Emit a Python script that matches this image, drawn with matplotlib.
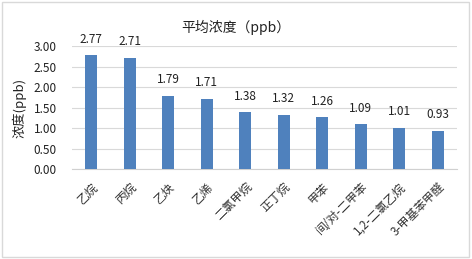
import matplotlib
matplotlib.use("Agg")
import matplotlib.pyplot as plt
from matplotlib.patches import Rectangle

plt.rcParams['font.family'] = ['Noto Sans CJK SC', 'DejaVu Sans']

# Data
compounds = ["乙烷", "丙烷", "乙炔", "乙烯", "二氯甲烷", "正丁烷", "甲苯",
             "间/对-二甲苯", "1,2-二氯乙烷", "3-甲基苯甲醛"]
conc = [2.77, 2.71, 1.79, 1.71, 1.38, 1.32, 1.26, 1.09, 1.01, 0.93]
yticks = [0.0, 0.5, 1.0, 1.5, 2.0, 2.5, 3.0]

fig = plt.figure(figsize=(4.72, 2.59), dpi=100)
fig.patch.set_facecolor("white")
fig.patches.append(Rectangle((0.004, 0.006), 0.99, 0.988, transform=fig.transFigure,
                             fill=False, edgecolor="#d9d9d9", linewidth=1.0))

ax = fig.add_axes([72 / 472, 1 - 169 / 259, 385 / 472, 123 / 259])
x = range(len(compounds))
ax.bar(x, conc, width=0.3, color="#4f81bd", zorder=3)
for xi, v in zip(x, conc):
    ax.annotate(f"{v:.2f}", (xi, v), xytext=(0, 7), textcoords="offset points",
                ha="center", va="bottom", fontsize=8.5, color="#222222")

ax.set_xlim(-0.5, len(compounds) - 0.5)
ax.set_ylim(0, 3.0)
ax.set_yticks(yticks)
ax.set_yticklabels([f"{t:.2f}" for t in yticks], fontsize=8.5, color="#222222")
ax.set_xticks(list(x))
ax.set_xticklabels(compounds, rotation=45, ha="right", rotation_mode="anchor",
                   fontsize=8.5, color="#333333")
ax.tick_params(axis="x", length=0, pad=8)
ax.tick_params(axis="y", length=0, pad=11)
ax.grid(axis="y", color="#d9d9d9", linewidth=0.8, zorder=0)
for s in ["top", "right", "left"]:
    ax.spines[s].set_visible(False)
ax.spines["bottom"].set_color("#d0d0d0")
ax.set_ylabel("浓度(ppb)", fontsize=9.5, color="#222222")
ax.yaxis.set_label_coords(-45 / 385, 0.5)

fig.text(0.5, 1 - 27 / 259, "平均浓度（ppb）", ha="center", va="center", fontsize=10,
         color="#222222")

fig.savefig("out.png", dpi=100)
